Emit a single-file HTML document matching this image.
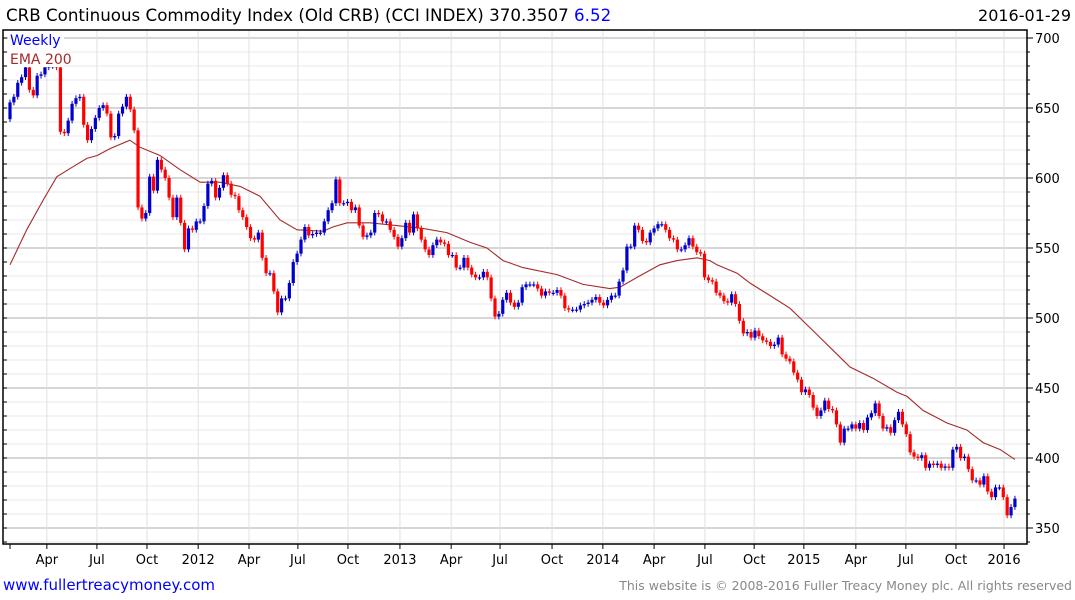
<!DOCTYPE html>
<html><head><meta charset="utf-8"><style>
body{margin:0;background:#fff;width:1075px;height:600px;overflow:hidden;font-family:"Liberation Sans","DejaVu Sans",sans-serif}
svg{position:absolute;left:0;top:0}
</style></head><body>
<svg id="chart" width="1075" height="600" font-family="DejaVu Sans, Liberation Sans, sans-serif">
<text x="6" y="21" font-size="16.7" fill="#000">CRB Continuous Commodity Index (Old CRB) (CCI INDEX) 370.3507 <tspan fill="#0000ff">6.52</tspan></text>
<text x="1071" y="21" font-size="16" fill="#000" text-anchor="end">2016-01-29</text>
<g id="grid"></g>
<g id="ema"></g>
<g id="candles"></g>
<rect x="3" y="30" width="1024" height="514" fill="none" stroke="#000" stroke-width="1.5"/>
<g id="axes"></g>
<rect x="8" y="31" width="56" height="36" fill="#fff"/>
<text x="10" y="45" font-size="14" fill="#0000ff">Weekly</text>
<text x="10" y="64" font-size="14" fill="#a52a2a">EMA 200</text>
<text x="3" y="590" font-size="15" fill="#0000ff">www.fullertreacymoney.com</text>
<text x="1072" y="590" font-size="12.5" fill="#888" text-anchor="end">This website is © 2008-2016 Fuller Treacy Money plc. All rights reserved</text>
</svg>
<script>
const closes=[654,658,668,672,679,663,659,673,674,679,680,680,679,633,632,641,653,657,658,638,627,635,643,650,652,646,629,630,646,651,658,649,634,579,571,575,601,591,613,606,600,586,572,586,568,549,564,563,569,569,580,596,598,586,593,602,596,588,587,577,572,565,557,556,561,543,532,532,519,504,514,514,525,540,546,556,565,559,560,561,561,569,577,582,599,582,582,583,
577,579,566,558,559,561,575,574,569,569,563,558,551,557,568,561,574,564,556,549,545,552,556,554,553,545,545,536,536,543,536,531,529,529,533,529,514,501,503,513,518,511,508,511,522,524,524,524,521,516,519,518,518,520,516,507,506,506,506,509,510,511,513,515,511,509,513,516,516,526,534,551,551,566,563,555,554,561,564,567,567,563,557,556,549,549,552,557,551,547,546,529,527,
526,518,516,512,511,517,510,498,489,490,486,491,487,484,483,480,481,486,474,471,469,461,456,447,449,445,436,430,434,441,435,434,424,411,421,421,424,421,425,420,429,432,439,430,421,422,418,427,433,424,417,404,401,400,402,393,396,395,396,393,394,393,406,408,400,401,392,384,384,381,387,376,372,379,379,372,359,365,371];
const firstOpen=642;
const emaWeeks=[0,4.3,8.5,12.1,16.2,19.8,22.4,25.8,30.9,33.5,38.7,43.8,49,54.1,59.3,64.4,69.6,74,80.7,83.2,86.9,92.8,99.7,106.4,112.6,118.6,122.9,127.1,132.2,141,147.7,154.6,157.2,161.6,167.5,171.9,177.1,180.4,182.2,187.4,190.7,195.9,201,203.6,208.8,212.1,216.5,222.4,228.6,231.2,235.3,241.5,246.6,250.8,255.2,259];
const emaValues=[538,563,584,601,608,614,616,621,627,622,616,606,597,597,594,587,570,563,562,565,568,568,566,564,561,554,550,541,536,531,524,521,522,529,538,541,543,541,538,532,525,516,507,500,486,477,465,457,447,444,434,425,420,411,406,399];
const xTickLabels=["Apr","Jul","Oct","2012","Apr","Jul","Oct","2013","Apr","Jul","Oct","2014","Apr","Jul","Oct","2015","Apr","Jul","Oct","2016"];
const xTickWeeks=[9.5,22.4,35.3,48.5,61.6,74.2,87.1,100.5,113.7,126.3,139.7,152.8,166,179.1,191.8,204.6,218,230.9,243.8,256.2];
const yTicks=[350,400,450,500,550,600,650,700];

const NS="http://www.w3.org/2000/svg";
const X0=10,STEP=3.88;
function xs(i){return X0+i*STEP;}
function ys(v){return 38+(700-v)*1.4;}
function mk(tag,attrs,parent){const e=document.createElementNS(NS,tag);for(const k in attrs)e.setAttribute(k,attrs[k]);parent.appendChild(e);return e;}
const grid=document.getElementById('grid'),axes=document.getElementById('axes'),cg=document.getElementById('candles'),eg=document.getElementById('ema');
for(let v=340;v<=710;v+=10){const y=ys(v);if(y<31||y>543)continue;const major=v%50===0;
const l=mk('line',{x1:3,x2:1027,y1:y,y2:y,stroke:major?'#bdbdbd':'#e8e8e8','stroke-width':major?1.2:1},grid);


const t1=mk('line',{x1:3,x2:7,y1:y,y2:y,stroke:'#000'},axes);


const t2=mk('line',{x1:1027,x2:major?1033:1030,y1:y,y2:y,stroke:'#000'},axes);

}
yTicks.forEach(v=>{const t=mk('text',{x:1035,y:ys(v)+5,'font-size':13,fill:'#000'},axes);t.textContent=v;

});
xTickWeeks.forEach((w,i)=>{const x=xs(w);
const g=mk('line',{x1:x,x2:x,y1:31,y2:543,stroke:'#e0e0e0'},grid);


const tk=mk('line',{x1:x,x2:x,y1:544,y2:549,stroke:'#000'},axes);


const t=mk('text',{x:x,y:564,'font-size':13,'text-anchor':'middle',fill:'#000'},axes);t.textContent=xTickLabels[i];

});
const t0=mk('line',{x1:10,x2:10,y1:544,y2:549,stroke:'#000'},axes);


let d='';emaWeeks.forEach((w,i)=>{d+=(i?'L':'M')+xs(w).toFixed(1)+','+ys(emaValues[i]).toFixed(1);});
const p=mk('path',{d:d,fill:'none',stroke:'#a52a2a','stroke-width':1.1},eg);


closes.forEach((c,i)=>{const o=i?closes[i-1]:firstOpen;const up=c>=o;const col=up?'#0000cc':'#ff0000';
const x=xs(i);const hi=Math.max(o,c)+2,lo=Math.min(o,c)-2;
const yt=Math.max(31,ys(hi));
const w=mk('line',{x1:x,x2:x,y1:yt,y2:ys(lo),stroke:col,'stroke-width':1},cg);


const top=Math.max(31,ys(Math.max(o,c)));const h=Math.max(1.2,ys(Math.min(o,c))-top);
const b=mk('rect',{x:x-1.6,y:top,width:3.2,height:h,fill:col},cg);

});
</script>
</body></html>
